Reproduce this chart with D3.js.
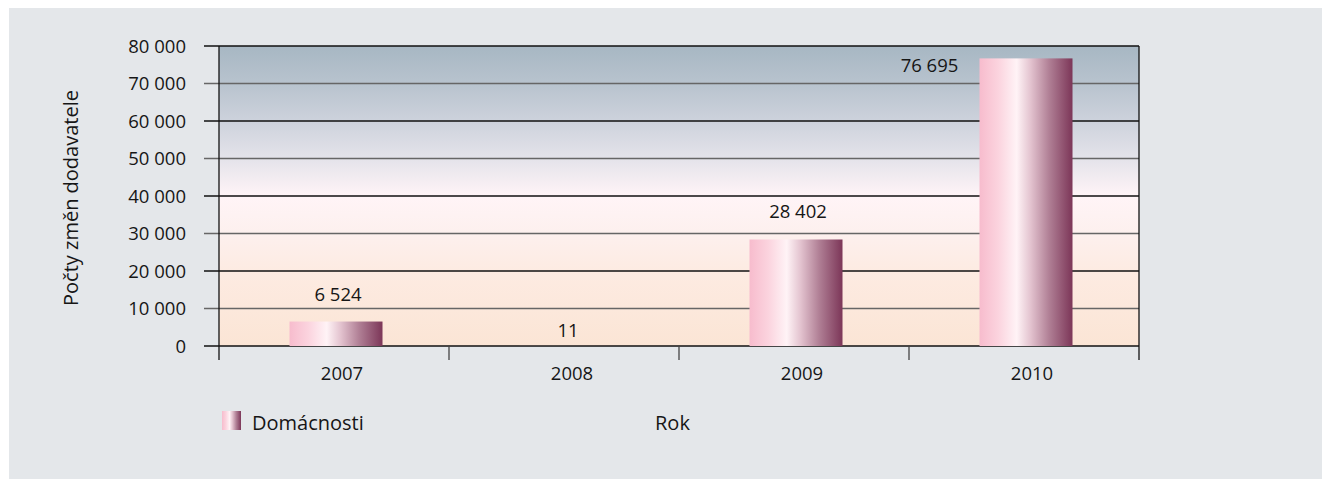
<!DOCTYPE html>
<html><head><meta charset="utf-8">
<script src="https://cdn.jsdelivr.net/npm/d3@7"></script>
<style>
html,body{margin:0;padding:0;background:#fff;}
svg text{font-family:"Open Sans","Noto Sans",sans-serif;fill:#161616;}
</style></head><body>
<svg id="c" width="1322" height="479"></svg>
<script>
const categories = ["2007","2008","2009","2010"];
const values = [6524, 11, 28402, 76695];
const valueLabels = ["6 524","11","28 402","76 695"];
const yTicks = [0,10000,20000,30000,40000,50000,60000,70000,80000];
const seriesName = "Domácnosti";
const xTitle = "Rok";
const yTitle = "Počty změn dodavatele";

const svg = d3.select("#c");
const defs = svg.append("defs");
const W=1322,H=479;
const m={l:219,r:1139,t:46,b:346};

svg.append("rect").attr("x",9).attr("y",8).attr("width",W-9).attr("height",H-8).attr("fill","#e4e7ea");

const x = d3.scaleBand().domain(categories).range([m.l,m.r]).paddingInner(0).paddingOuter(0);
const y = d3.scaleLinear().domain([0,80000]).range([m.b,m.t]);

// plot background gradient
const bg = defs.append("linearGradient").attr("id","bg").attr("x1",0).attr("y1",0).attr("x2",0).attr("y2",1);
[[0,"#a7b7c3"],[0.125,"#b8c3ce"],[0.25,"#cdd2dc"],[0.375,"#e4e3ea"],[0.5,"#fff4f7"],[0.625,"#fdf0ee"],[0.75,"#fdebe2"],[1,"#fbe5d5"]]
  .forEach(s=>bg.append("stop").attr("offset",s[0]).attr("stop-color",s[1]));
svg.append("rect").attr("x",m.l).attr("y",m.t).attr("width",m.r-m.l).attr("height",m.b-m.t).attr("fill","url(#bg)");

// bar gradient
const bgr = defs.append("linearGradient").attr("id","bar").attr("x1",0).attr("y1",0).attr("x2",1).attr("y2",0);
[[0,"#f7bccd"],[0.2,"#fbd3de"],[0.4,"#fff3f6"],[0.55,"#e3c3cf"],[0.75,"#b07f95"],[1,"#7c3658"]]
  .forEach(s=>bgr.append("stop").attr("offset",s[0]).attr("stop-color",s[1]));

// gridlines
svg.append("g").selectAll("line").data(yTicks).join("line")
  .attr("x1",m.l-15).attr("x2",m.r)
  .attr("y1",d=>y(d)).attr("y2",d=>y(d))
  .attr("stroke",(d,i)=>i%2===0?"#111":"#666").attr("stroke-width",1.3);

// y labels
svg.append("g").selectAll("text").data(yTicks).join("text")
  .attr("x",m.l-33).attr("y",d=>y(d)).attr("dy","0.36em")
  .attr("text-anchor","end").attr("font-size",18.5)
  .text(d=>d3.format(",")(d).replace(/,/g," "));

// bars
const bw = 93;
svg.append("g").selectAll("rect").data(values).join("rect")
  .attr("x",(d,i)=>x(categories[i])+x.bandwidth()/2-bw/2+2)
  .attr("width",bw)
  .attr("y",d=>y(d)).attr("height",d=>y(0)-y(d))
  .attr("fill","url(#bar)");

// value labels
svg.append("g").selectAll("text").data(values).join("text")
  .attr("text-anchor","middle").attr("font-size",18.5)
  .attr("x",(d,i)=>{
     const cx=x(categories[i])+x.bandwidth()/2;
     return (y(d)-22<m.t+5)? cx-bw/2-48 : cx+4;
  })
  .attr("y",(d,i)=>{
     if (y(d)-22<m.t+5) return y(d)+14;
     if (y(0)-y(d)<5) return y(0)-9;
     return y(d)-21;
  })
  .text((d,i)=>valueLabels[i]);

// axes lines
svg.append("line").attr("x1",m.l).attr("x2",m.l).attr("y1",m.t).attr("y2",m.b+14).attr("stroke","#111").attr("stroke-width",1.3);
svg.append("line").attr("x1",m.r).attr("x2",m.r).attr("y1",m.t).attr("y2",m.b+14).attr("stroke","#111").attr("stroke-width",1.3);
svg.append("g").selectAll("line").data(categories.slice(1)).join("line")
  .attr("x1",d=>x(d)).attr("x2",d=>x(d)).attr("y1",m.b).attr("y2",m.b+14)
  .attr("stroke","#444").attr("stroke-width",1.3);

// x labels
svg.append("g").selectAll("text").data(categories).join("text")
  .attr("x",d=>x(d)+x.bandwidth()/2+8).attr("y",m.b+34)
  .attr("text-anchor","middle").attr("font-size",18.5).text(d=>d);

// y title
svg.append("text").attr("transform",`translate(78,${(m.t+m.b)/2+2}) rotate(-90)`)
  .attr("text-anchor","middle").attr("font-size",20).text(yTitle);

// legend
svg.append("rect").attr("x",222).attr("y",411).attr("width",19).attr("height",19).attr("fill","url(#bar)");
svg.append("text").attr("x",252).attr("y",430).attr("font-size",20).text(seriesName);
svg.append("text").attr("x",655).attr("y",430).attr("font-size",20).text(xTitle);
</script>
</body></html>
